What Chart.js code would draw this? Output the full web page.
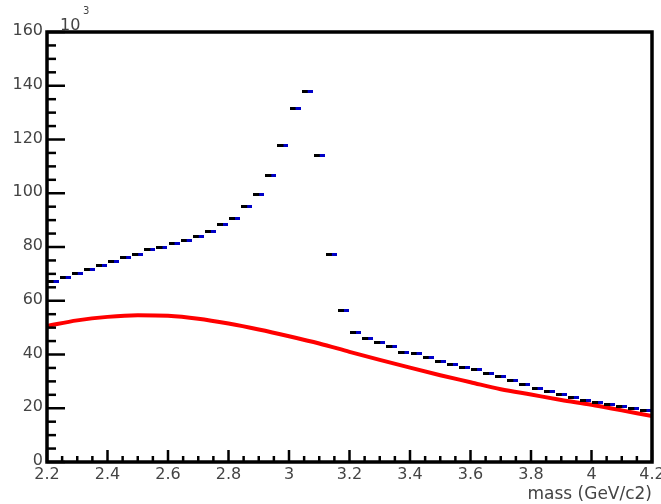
<!DOCTYPE html>
<html>
<head>
<meta charset="utf-8">
<script src="https://cdn.jsdelivr.net/npm/chart.js@4/dist/chart.umd.min.js"></script>
<style>
  html, body { margin: 0; padding: 0; background: #fff; }
  #wrap { width: 661px; height: 504px; }
</style>
</head>
<body>
<div id="wrap"><canvas id="massChart" width="661" height="504"></canvas></div>
<script>
// histogram bins (GeV/c2), counts in units of 10^3
const binCenters = [
  2.22, 2.26, 2.30, 2.34, 2.38, 2.42, 2.46, 2.50, 2.54, 2.58,
  2.62, 2.66, 2.70, 2.74, 2.78, 2.82, 2.86, 2.90, 2.94, 2.98,
  3.02, 3.06, 3.10, 3.14, 3.18, 3.22, 3.26, 3.30, 3.34, 3.38,
  3.42, 3.46, 3.50, 3.54, 3.58, 3.62, 3.66, 3.70, 3.74, 3.78,
  3.82, 3.86, 3.90, 3.94, 3.98, 4.02, 4.06, 4.10, 4.14, 4.18
];
const binCounts = [
  67.3, 68.7, 70.2, 71.8, 73.2, 74.7, 76.2, 77.3, 78.9, 79.9,
  81.4, 82.6, 84.0, 85.7, 88.2, 90.5, 94.9, 99.5, 106.7, 117.6,
  131.6, 137.9, 114.2, 77.3, 56.2, 48.1, 45.9, 44.3, 42.9, 40.9,
  40.2, 38.7, 37.5, 36.3, 35.3, 34.3, 33.1, 31.7, 30.3, 28.8,
  27.4, 26.2, 25.1, 24.1, 22.8, 22.2, 21.5, 20.8, 19.9, 19.3
];

// background fit curve
const fitX = [2.2, 2.3, 2.4, 2.5, 2.6, 2.7, 2.8, 2.9, 3.0, 3.1, 3.2,
              3.3, 3.4, 3.5, 3.6, 3.7, 3.8, 3.9, 4.0, 4.1, 4.2];
const fitY = [50.6, 52.7, 54.0, 54.6, 54.4, 53.3, 51.5, 49.3, 46.8, 44.1, 41.0,
              38.0, 35.1, 32.3, 29.7, 27.1, 25.1, 23.1, 21.3, 19.2, 17.1];

const xTickValues = [2.2, 2.4, 2.6, 2.8, 3.0, 3.2, 3.4, 3.6, 3.8, 4.0, 4.2];
const xTickLabels = ["2.2", "2.4", "2.6", "2.8", "3", "3.2", "3.4", "3.6", "3.8", "4", "4.2"];
const yTickValues = [0, 20, 40, 60, 80, 100, 120, 140, 160];
const yTickLabels = ["0", "20", "40", "60", "80", "100", "120", "140", "160"];

const xTitle = "mass (GeV/c2)";

// little black/blue dash used as the histogram marker
const dash = document.createElement("canvas");
dash.width = 11;
dash.height = 3;
const dctx = dash.getContext("2d");
dctx.fillStyle = "#000000";
dctx.fillRect(0, 0, 6, 3);
dctx.fillStyle = "#0000c8";
dctx.fillRect(6, 0, 5, 3);

const labelFont = "16px 'DejaVu Sans', sans-serif";
const labelColor = "#444444";

const rootFrame = {
  id: "rootFrame",
  afterDatasetsDraw(chart) {
    const ctx = chart.ctx;
    const area = chart.chartArea;
    const xs = chart.scales.x;
    const ys = chart.scales.y;
    ctx.save();
    ctx.strokeStyle = "#000";
    ctx.lineWidth = 2.5;

    // y ticks (inward)
    for (let v = 0; v <= 160; v += 5) {
      const py = ys.getPixelForValue(v);
      const len = v % 20 === 0 ? 18 : 9;
      ctx.beginPath();
      ctx.moveTo(area.left, py);
      ctx.lineTo(area.left + len, py);
      ctx.stroke();
    }
    // x ticks (inward)
    for (let i = 0; i <= 40; i++) {
      const v = 2.2 + i * 0.05;
      const px = xs.getPixelForValue(v);
      const len = i % 4 === 0 ? 12 : 6;
      ctx.beginPath();
      ctx.moveTo(px, area.bottom);
      ctx.lineTo(px, area.bottom - len);
      ctx.stroke();
    }

    // frame
    ctx.lineWidth = 3.5;
    ctx.strokeRect(area.left, area.top, area.right - area.left, area.bottom - area.top);

    // tick labels
    ctx.fillStyle = labelColor;
    ctx.font = labelFont;
    ctx.textAlign = "right";
    ctx.textBaseline = "middle";
    yTickValues.forEach((v, i) => {
      ctx.fillText(yTickLabels[i], area.left - 4, ys.getPixelForValue(v) - 1);
    });
    ctx.textAlign = "center";
    ctx.textBaseline = "top";
    xTickValues.forEach((v, i) => {
      ctx.fillText(xTickLabels[i], xs.getPixelForValue(v), area.bottom + 5);
    });

    // axis title
    ctx.font = "17px 'DejaVu Sans', sans-serif";
    ctx.textAlign = "right";
    ctx.textBaseline = "alphabetic";
    ctx.fillText(xTitle, area.right, area.bottom + 37);

    // exponent
    ctx.font = labelFont;
    ctx.textAlign = "left";
    ctx.fillText("10", area.left + 13, area.top - 2);
    ctx.font = "10px 'DejaVu Sans', sans-serif";
    ctx.fillText("3", area.left + 36, area.top - 18);
    ctx.restore();
  }
};

new Chart(document.getElementById("massChart"), {
  type: "scatter",
  data: {
    datasets: [
      {
        label: "background",
        data: fitX.map((x, i) => ({ x: x, y: fitY[i] })),
        showLine: true,
        borderColor: "#ff0000",
        borderWidth: 4,
        pointRadius: 0,
        cubicInterpolationMode: "monotone",
        order: 2
      },
      {
        label: "data",
        data: binCenters.map((x, i) => ({ x: x, y: binCounts[i] })),
        showLine: false,
        pointStyle: dash,
        pointRadius: 6,
        order: 1
      }
    ]
  },
  options: {
    responsive: false,
    animation: false,
    layout: { padding: { left: 47, right: 9, top: 32, bottom: 42 } },
    plugins: { legend: { display: false }, tooltip: { enabled: false } },
    scales: {
      x: { type: "linear", min: 2.2, max: 4.2, display: false },
      y: { type: "linear", min: 0, max: 160, display: false }
    }
  },
  plugins: [rootFrame]
});
</script>
</body>
</html>
